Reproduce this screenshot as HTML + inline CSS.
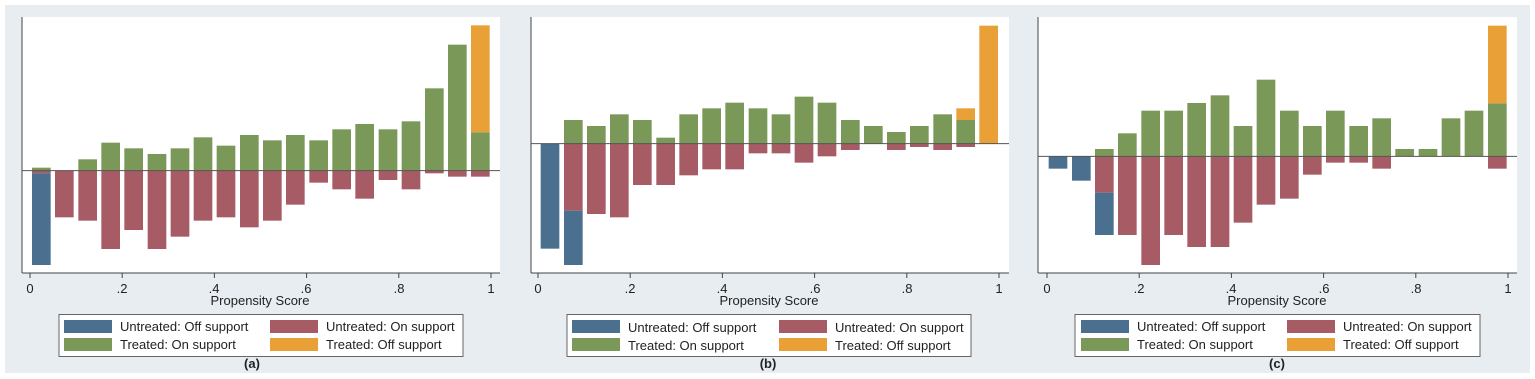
<!DOCTYPE html>
<html><head><meta charset="utf-8"><style>
html,body{margin:0;padding:0;background:#fff;}
svg{display:block;font-family:"Liberation Sans",sans-serif;}
</style></head><body>
<svg id="s" width="1535" height="379" viewBox="0 0 1535 379" xmlns="http://www.w3.org/2000/svg">
<rect x="5" y="5" width="1525" height="368" fill="#e7edf1"/>
<g id="bars"></g>
<g font-size="13" fill="#222">
<!-- panel a -->
<text x="30" y="293" text-anchor="middle">0</text><text x="122" y="293" text-anchor="middle">.2</text><text x="214" y="293" text-anchor="middle">.4</text><text x="306" y="293" text-anchor="middle">.6</text><text x="399" y="293" text-anchor="middle">.8</text><text x="491" y="293" text-anchor="middle">1</text>
<text x="260" y="305" text-anchor="middle">Propensity Score</text>
<text x="120" y="331">Untreated: Off support</text><text x="326" y="331">Untreated: On support</text>
<text x="120" y="349">Treated: On support</text><text x="326" y="349">Treated: Off support</text>
<text x="252" y="368" text-anchor="middle" font-weight="bold">(a)</text>
<!-- panel b -->
<text x="538" y="293" text-anchor="middle">0</text><text x="630" y="293" text-anchor="middle">.2</text><text x="722" y="293" text-anchor="middle">.4</text><text x="815" y="293" text-anchor="middle">.6</text><text x="907" y="293" text-anchor="middle">.8</text><text x="999" y="293" text-anchor="middle">1</text>
<text x="769" y="305" text-anchor="middle">Propensity Score</text>
<text x="628" y="332">Untreated: Off support</text><text x="835" y="332">Untreated: On support</text>
<text x="628" y="350">Treated: On support</text><text x="835" y="350">Treated: Off support</text>
<text x="768" y="368" text-anchor="middle" font-weight="bold">(b)</text>
<!-- panel c -->
<text x="1047" y="293" text-anchor="middle">0</text><text x="1139" y="293" text-anchor="middle">.2</text><text x="1231" y="293" text-anchor="middle">.4</text><text x="1324" y="293" text-anchor="middle">.6</text><text x="1416" y="293" text-anchor="middle">.8</text><text x="1508" y="293" text-anchor="middle">1</text>
<text x="1277" y="305" text-anchor="middle">Propensity Score</text>
<text x="1137" y="331">Untreated: Off support</text><text x="1343" y="331">Untreated: On support</text>
<text x="1137" y="349">Treated: On support</text><text x="1343" y="349">Treated: Off support</text>
<text x="1277" y="368" text-anchor="middle" font-weight="bold">(c)</text>
</g>
</svg>
<script>
var NS="http://www.w3.org/2000/svg",g=document.getElementById('bars');
var C={b:"#4b6f8e",r:"#a65b65",g:"#7a9858",o:"#e9a037"};
function R(x,y,w,h,f,s,sw){var e=document.createElementNS(NS,'rect');e.setAttribute('x',x);e.setAttribute('y',y);e.setAttribute('width',w);e.setAttribute('height',h);e.setAttribute('fill',f);if(s){e.setAttribute('stroke',s);e.setAttribute('stroke-width',sw||1);}g.appendChild(e);}
function L(x1,y1,x2,y2,c,w){var e=document.createElementNS(NS,'line');e.setAttribute('x1',x1);e.setAttribute('y1',y1);e.setAttribute('x2',x2);e.setAttribute('y2',y2);e.setAttribute('stroke',c);e.setAttribute('stroke-width',w||1);g.appendChild(e);}
var P=[
{o:0,px0:22,px1:500,t0:30,t1:491,z:512,lx0:59,lx1:463,sw0:64,sw1:270,
 lefts:[96,165,235,304,373,443,512,581,650,720,789,858,928,997,1066,1136,1205,1275,1344,1413],
 gr:[503,0,478,428,445,462,445,412,437,405,421,405,421,388,372,388,364,265,134,397],
 or:{19:76},
 rd:[520,652,662,747,690,747,710,662,652,682,662,614,548,568,596,540,568,520,530,530],
 bl:{0:795}},
{o:510,px0:531,px1:1009,t0:538,t1:999,z:431,lx0:567,lx1:971,sw0:572,sw1:779,
 lefts:[92,162,231,300,369,439,508,577,646,716,785,854,923,993,1062,1131,1200,1270,1339,1408],
 gr:[0,360,378,343,360,413,343,325,308,325,343,290,308,360,378,396,378,343,360,0],
 or:{18:325,19:77},
 rd:[0,632,642,652,555,555,526,508,508,460,460,488,469,450,0,450,441,450,441,0],
 bl:{0:746,1:795}},
{o:1015,px0:1038,px1:1517,t0:1047,t1:1508,z:469,lx0:1075,lx1:1480,sw0:1081,sw1:1287,
 lefts:[101,171,240,309,379,448,517,587,656,725,795,864,933,1003,1072,1141,1211,1280,1349,1419],
 gr:[0,0,447,400,332,332,309,286,378,239,332,378,332,378,355,447,447,355,332,310],
 or:{19:77},
 rd:[0,0,578,705,795,705,741,741,668,614,596,524,488,488,506,0,0,0,0,506],
 bl:{0:506,1:542,2:705}}
];
P.forEach(function(p){
 R(p.px0,17,p.px1-p.px0,256,"#fff");
 var z=p.z/3,w=56/3;
 for(var i=0;i<20;i++){
  var x=p.o+p.lefts[i]/3;
  var gt=z; if(p.gr[i]){gt=p.gr[i]/3;R(x,gt,w,z-gt,C.g);}
  if(p.or[i]!==undefined){var ot=p.or[i]/3;R(x,ot,w,gt-ot,C.o);}
  var rb=z; if(p.rd[i]){rb=p.rd[i]/3;R(x,z,w,rb-z,C.r);}
  if(p.bl[i]!==undefined){var bb=p.bl[i]/3;R(x,rb,w,bb-rb,C.b);}
 }
 L(p.px0,z,p.px1,z,"#555",1);
 L(p.px0,17,p.px0,273,"#444",1);
 L(p.px0,273,p.px1,273,"#444",1);
 for(var k=0;k<=5;k++){var tx=p.t0+(p.t1-p.t0)*k/5;L(tx,273,tx,278,"#444",1);}
 R(p.lx0,314.5,p.lx1-p.lx0,42,"#fff","#666",1);
 R(p.sw0,320,48,13,C.b);R(p.sw1,320,48,13,C.r);
 R(p.sw0,338,48,13,C.g);R(p.sw1,338,48,13,C.o);
});
</script>
</body></html>
